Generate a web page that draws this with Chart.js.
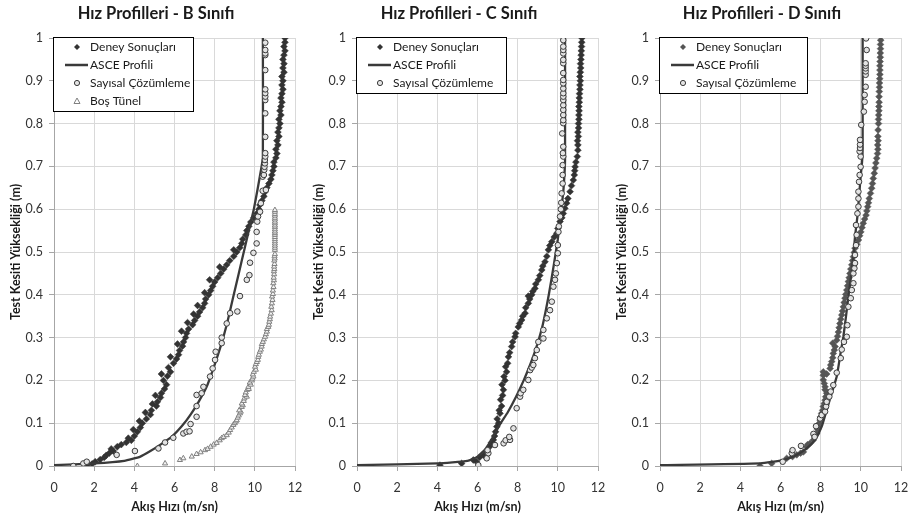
<!DOCTYPE html>
<html><head><meta charset="utf-8">
<script src="https://cdn.jsdelivr.net/npm/chart.js@4.4.1/dist/chart.umd.min.js"></script>
<style>
html,body{margin:0;padding:0;background:#fff;width:909px;height:522px;overflow:hidden}
.c{position:absolute;top:0;width:303px;height:522px}
</style></head><body>
<div class="c" style="left:0"><canvas id="cB" width="303" height="522"></canvas></div>
<div class="c" style="left:303px"><canvas id="cC" width="303" height="522"></canvas></div>
<div class="c" style="left:606px"><canvas id="cD" width="303" height="522"></canvas></div>
<script>
const FONT = 'Lato, "Open Sans", sans-serif';
const xTickLabels = ['0','2','4','6','8','10','12'];
const yTickLabels = ['0','0.1','0.2','0.3','0.4','0.5','0.6','0.7','0.8','0.9','1'];
const chartTitles = ['Hız Profilleri - B Sınıfı','Hız Profilleri - C Sınıfı','Hız Profilleri - D Sınıfı'];
const legendLabels = ['Deney Sonuçları','ASCE Profili','Sayısal Çözümleme','Boş Tünel'];
const axisTitleX = 'Akış Hızı (m/sn)';
const axisTitleY = 'Test Kesiti Yüksekliği (m)';

// ---- B class ----
const bDeney = [[1.65,0],[1.9,0.005],[2.05,0.01],[2.3,0.015],[2.5,0.02],[2.6,0.025],[2.75,0.03],[2.95,0.035],[2.85,0.04],[3.15,0.045],[3.35,0.05],[3.6,0.055],[3.85,0.06],[3.7,0.065],[4.0,0.07],[4.15,0.08],[3.95,0.085],[4.3,0.09],[4.4,0.1],[4.25,0.105],[4.6,0.11],[4.8,0.12],[4.55,0.125],[4.85,0.13],[5.1,0.14],[4.9,0.145],[5.15,0.15],[5.3,0.16],[5.05,0.165],[5.35,0.17],[5.5,0.18],[5.6,0.19],[5.45,0.2],[5.65,0.21],[5.35,0.215],[5.8,0.22],[5.7,0.23],[5.95,0.24],[6.1,0.25],[5.8,0.255],[6.2,0.26],[6.25,0.27],[6.4,0.28],[6.15,0.285],[6.45,0.29],[6.55,0.3],[6.6,0.31],[6.35,0.315],[6.7,0.32],[6.9,0.33],[6.65,0.335],[7.0,0.34],[7.15,0.35],[6.95,0.355],[7.25,0.36],[7.4,0.37],[7.15,0.375],[7.5,0.38],[7.55,0.39],[7.7,0.4],[7.5,0.405],[7.8,0.41],[7.9,0.42],[8.0,0.43],[7.75,0.435],[8.15,0.44],[8.3,0.45],[8.45,0.46],[8.25,0.465],[8.6,0.47],[8.75,0.48],[8.95,0.49],[9.1,0.5],[8.95,0.505],[9.25,0.51],[9.35,0.52],[9.4,0.53],[9.55,0.54],[9.6,0.55],[9.7,0.56],[9.8,0.57],[9.95,0.58],[10.1,0.59],[10.2,0.6],[10.25,0.61],[10.35,0.62],[10.45,0.63],[10.5,0.64],[10.6,0.65],[10.7,0.66],[10.8,0.67],[10.85,0.68],[10.9,0.69],[10.95,0.7],[10.95,0.71],[11.05,0.72],[11.1,0.73],[11.05,0.74],[11.15,0.75],[11.1,0.76],[11.2,0.77],[11.15,0.78],[11.2,0.79],[11.25,0.8],[11.2,0.81],[11.3,0.82],[11.25,0.83],[11.3,0.84],[11.35,0.85],[11.3,0.86],[11.35,0.87],[11.4,0.88],[11.35,0.89],[11.4,0.9],[11.35,0.91],[11.45,0.92],[11.4,0.93],[11.45,0.94],[11.4,0.95],[11.45,0.96],[11.5,0.97],[11.45,0.98],[11.5,0.99],[11.5,1.0]];
const bAsce = [[0,0.002],[2.0,0.006],[3.5,0.012],[4.3,0.022],[4.8,0.035],[5.3,0.05],[5.9,0.07],[6.4,0.095],[6.8,0.12],[7.2,0.15],[7.6,0.185],[7.95,0.23],[8.3,0.28],[8.6,0.33],[8.9,0.39],[9.2,0.45],[9.5,0.51],[9.75,0.56],[9.95,0.6],[10.15,0.65],[10.3,0.69],[10.4,0.72],[10.4,1.0]];
const bSayisal = [[0.96,0.0],[1.46,0.006],[1.63,0.01],[3.12,0.026],[4.03,0.035],[5.2,0.041],[5.53,0.055],[5.94,0.066],[6.44,0.076],[6.6,0.08],[6.75,0.081],[6.8,0.098],[7.1,0.115],[7.1,0.14],[7.1,0.166],[7.35,0.17],[7.44,0.185],[7.77,0.209],[7.9,0.228],[8.02,0.248],[8.05,0.267],[8.35,0.287],[8.35,0.3],[8.6,0.333],[8.77,0.357],[9.13,0.361],[9.26,0.397],[9.6,0.435],[9.73,0.446],[9.76,0.475],[9.93,0.498],[10.09,0.52],[10.09,0.547],[10.12,0.571],[10.16,0.583],[10.26,0.594],[10.3,0.614],[10.39,0.643],[10.55,0.645],[10.39,0.676],[10.45,0.68],[10.47,0.692],[10.48,0.699],[10.5,0.707],[10.5,0.715],[10.52,0.723],[10.52,0.731],[10.52,0.769],[10.52,0.824],[10.52,0.855],[10.52,0.863],[10.52,0.871],[10.52,0.88],[10.52,0.925],[10.52,0.96],[10.52,0.964],[10.52,0.972],[10.52,0.989]];
const bBos = [[4.15,0.0],[5.53,0.006],[6.27,0.014],[6.44,0.018],[6.86,0.022],[7.1,0.028],[7.3,0.032],[7.52,0.037],[7.65,0.04],[7.8,0.045],[7.95,0.05],[8.1,0.054],[8.25,0.06],[8.35,0.065],[8.45,0.068],[8.6,0.072],[8.7,0.078],[8.77,0.084],[8.85,0.09],[8.93,0.096],[9.0,0.1],[9.05,0.104],[9.1,0.107],[9.15,0.113],[9.2,0.118],[9.26,0.123],[9.3,0.127],[9.22,0.13],[9.35,0.138],[9.4,0.142],[9.35,0.146],[9.45,0.152],[9.48,0.158],[9.6,0.162],[9.51,0.166],[9.55,0.172],[9.62,0.178],[9.7,0.18],[9.68,0.185],[9.8,0.19],[9.75,0.195],[9.85,0.2],[9.88,0.204],[9.93,0.209],[9.9,0.214],[9.95,0.22],[10.05,0.225],[10.01,0.232],[10.05,0.238],[10.1,0.243],[10.15,0.248],[10.17,0.255],[10.2,0.26],[10.25,0.267],[10.3,0.272],[10.34,0.279],[10.35,0.285],[10.4,0.29],[10.45,0.296],[10.51,0.302],[10.55,0.308],[10.6,0.314],[10.6,0.32],[10.67,0.325],[10.7,0.33],[10.72,0.337],[10.75,0.343],[10.76,0.349],[10.8,0.356],[10.84,0.364],[10.82,0.372],[10.85,0.38],[10.88,0.388],[10.86,0.396],[10.9,0.402],[10.9,0.41],[10.93,0.418],[10.92,0.427],[10.95,0.434],[10.94,0.44],[10.96,0.448],[10.95,0.455],[10.97,0.46],[10.96,0.466],[10.98,0.472],[10.97,0.48],[10.99,0.485],[10.98,0.49],[11.0,0.495],[11.0,0.505],[11.0,0.51],[11.0,0.515],[11.0,0.52],[11.0,0.525],[11.0,0.53],[11.0,0.535],[11.0,0.54],[11.0,0.544],[11.0,0.548],[11.0,0.553],[11.0,0.558],[11.0,0.562],[11.0,0.567],[11.0,0.571],[11.0,0.576],[11.0,0.58],[11.0,0.585],[11.0,0.589],[11.0,0.594],[11.0,0.598]];

// ---- C class ----
const cDeney = [[4.13,0.002],[5.21,0.006],[5.95,0.01],[5.79,0.014],[6.1,0.02],[6.3,0.025],[6.46,0.033],[6.6,0.045],[6.7,0.055],[6.79,0.061],[6.85,0.07],[6.9,0.08],[6.96,0.092],[7.05,0.1],[6.98,0.11],[7.12,0.123],[7.08,0.13],[7.2,0.14],[7.15,0.155],[7.25,0.165],[7.29,0.178],[7.22,0.19],[7.37,0.2],[7.32,0.209],[7.45,0.22],[7.4,0.232],[7.5,0.24],[7.54,0.255],[7.6,0.265],[7.7,0.279],[7.75,0.29],[7.87,0.302],[7.9,0.31],[8.03,0.325],[8.1,0.333],[8.2,0.341],[8.25,0.35],[8.37,0.357],[8.4,0.37],[8.53,0.38],[8.6,0.39],[8.53,0.397],[8.7,0.4],[8.75,0.408],[8.86,0.415],[8.9,0.425],[9.03,0.435],[9.1,0.445],[9.2,0.458],[9.25,0.467],[9.36,0.477],[9.45,0.49],[9.53,0.505],[9.6,0.515],[9.7,0.524],[9.82,0.535],[9.95,0.544],[10.0,0.555],[10.11,0.571],[10.2,0.58],[10.27,0.59],[10.35,0.602],[10.44,0.614],[10.5,0.625],[10.61,0.641],[10.68,0.655],[10.77,0.668],[10.82,0.68],[10.84,0.69],[10.86,0.699],[10.9,0.71],[10.97,0.723],[11.0,0.738],[11.0,0.75],[10.98,0.76],[11.02,0.77],[11.0,0.78],[11.03,0.79],[11.03,0.8],[11.05,0.81],[11.05,0.82],[11.06,0.83],[11.05,0.84],[11.07,0.85],[11.07,0.86],[11.08,0.87],[11.1,0.88],[11.1,0.89],[11.12,0.9],[11.1,0.91],[11.12,0.92],[11.14,0.93],[11.13,0.94],[11.15,0.95],[11.16,0.96],[11.17,0.97],[11.18,0.98],[11.19,0.99],[11.2,1.0]];
const cAsce = [[0,0.002],[4.0,0.006],[5.5,0.012],[6.0,0.022],[6.4,0.04],[6.8,0.07],[7.15,0.1],[7.5,0.125],[7.9,0.16],[8.3,0.2],[8.65,0.24],[8.95,0.28],[9.25,0.33],[9.55,0.4],[9.8,0.47],[10.0,0.53],[10.15,0.59],[10.27,0.64],[10.34,0.69],[10.36,0.72],[10.36,1.0]];
const cSayisal = [[6.04,0.002],[6.46,0.018],[6.54,0.03],[6.5,0.037],[6.87,0.049],[7.3,0.053],[7.4,0.06],[7.62,0.061],[7.58,0.068],[7.79,0.088],[7.95,0.135],[8.12,0.162],[8.15,0.17],[8.28,0.178],[8.53,0.201],[8.62,0.224],[8.7,0.23],[8.78,0.236],[8.86,0.252],[8.95,0.271],[9.03,0.29],[9.28,0.298],[9.28,0.318],[9.45,0.345],[9.61,0.364],[9.7,0.384],[9.78,0.419],[9.86,0.435],[9.9,0.45],[9.95,0.474],[10.0,0.497],[10.0,0.516],[10.03,0.547],[10.05,0.56],[10.11,0.583],[10.15,0.6],[10.17,0.615],[10.19,0.637],[10.24,0.66],[10.24,0.68],[10.24,0.703],[10.27,0.723],[10.25,0.731],[10.27,0.746],[10.22,0.777],[10.27,0.801],[10.27,0.808],[10.27,0.82],[10.27,0.832],[10.27,0.843],[10.27,0.855],[10.27,0.863],[10.27,0.871],[10.27,0.882],[10.27,0.894],[10.27,0.902],[10.27,0.918],[10.27,0.941],[10.27,0.949],[10.27,0.964],[10.27,0.972],[10.27,0.98],[10.27,0.995]];

// ---- D class ----
const dDeney = [[4.98,0.0],[5.56,0.006],[6.31,0.018],[6.6,0.022],[6.81,0.026],[7.0,0.03],[7.14,0.033],[7.3,0.045],[7.35,0.05],[7.47,0.053],[7.64,0.061],[7.7,0.068],[7.8,0.076],[7.85,0.085],[7.89,0.092],[7.93,0.1],[7.97,0.107],[8.0,0.115],[8.05,0.123],[8.1,0.13],[8.13,0.139],[8.18,0.146],[8.22,0.154],[8.25,0.162],[8.3,0.17],[8.22,0.178],[8.22,0.185],[8.18,0.193],[8.13,0.201],[8.13,0.212],[8.13,0.22],[8.3,0.215],[8.47,0.228],[8.5,0.236],[8.55,0.244],[8.6,0.253],[8.63,0.263],[8.68,0.271],[8.72,0.279],[8.6,0.287],[8.8,0.294],[8.84,0.303],[8.88,0.313],[8.92,0.323],[8.96,0.333],[9.0,0.343],[9.05,0.353],[9.09,0.362],[9.13,0.372],[9.17,0.382],[9.21,0.392],[9.25,0.401],[9.3,0.411],[9.34,0.421],[9.38,0.431],[9.42,0.44],[9.46,0.45],[9.5,0.46],[9.55,0.47],[9.59,0.48],[9.63,0.489],[9.67,0.499],[9.71,0.509],[9.8,0.518],[9.88,0.528],[9.94,0.538],[10.0,0.547],[10.06,0.557],[10.12,0.567],[10.19,0.577],[10.26,0.586],[10.3,0.596],[10.34,0.606],[10.38,0.615],[10.42,0.625],[10.48,0.637],[10.54,0.649],[10.58,0.66],[10.62,0.672],[10.67,0.684],[10.71,0.696],[10.75,0.708],[10.79,0.719],[10.83,0.73],[10.85,0.74],[10.84,0.75],[10.86,0.76],[10.85,0.77],[10.86,0.785],[10.88,0.8],[10.88,0.81],[10.89,0.82],[10.9,0.83],[10.9,0.84],[10.91,0.85],[10.91,0.863],[10.92,0.875],[10.93,0.885],[10.93,0.895],[10.94,0.905],[10.95,0.915],[10.95,0.925],[10.95,0.935],[10.96,0.945],[10.97,0.955],[10.97,0.965],[10.98,0.975],[10.98,0.985],[10.99,0.995]];
const dAsce = [[0,0.002],[5.0,0.006],[6.14,0.014],[6.81,0.026],[7.3,0.041],[7.72,0.061],[8.05,0.092],[8.3,0.131],[8.55,0.17],[8.8,0.209],[8.96,0.255],[9.13,0.302],[9.26,0.349],[9.38,0.396],[9.51,0.442],[9.63,0.489],[9.71,0.536],[9.83,0.583],[9.91,0.629],[9.99,0.676],[10.06,0.71],[10.09,0.74],[10.09,1.0]];
const dSayisal = [[6.11,0.01],[6.56,0.03],[6.6,0.037],[7.02,0.047],[7.64,0.075],[7.7,0.068],[7.77,0.093],[7.97,0.111],[8.05,0.119],[8.22,0.127],[8.27,0.139],[8.3,0.15],[8.43,0.162],[8.5,0.174],[8.63,0.189],[8.8,0.218],[9.0,0.252],[9.05,0.272],[9.16,0.29],[9.3,0.302],[9.33,0.329],[9.38,0.372],[9.5,0.392],[9.55,0.411],[9.63,0.427],[9.63,0.45],[9.68,0.462],[9.71,0.474],[9.71,0.493],[9.76,0.516],[9.79,0.54],[9.76,0.563],[9.83,0.59],[9.88,0.606],[9.88,0.625],[9.88,0.641],[9.91,0.664],[9.94,0.68],[9.99,0.699],[9.99,0.723],[9.94,0.735],[9.96,0.743],[9.96,0.751],[9.96,0.762],[10.02,0.797],[10.15,0.828],[10.19,0.851],[10.19,0.867],[10.24,0.886],[10.24,0.914],[10.24,0.922],[10.24,0.929],[10.24,0.935],[10.24,0.941],[10.29,0.972],[10.26,0.999]];

const toPts = a => a.map(p => ({x: p[0], y: p[1]}));

const decor = {
  id: 'decor',
  afterDraw(chart, args, o) {
    const ctx = chart.ctx;
    ctx.save();
    ctx.font = 'bold 16.5px ' + FONT;
    ctx.fillStyle = '#1a1a1a';
    ctx.textAlign = 'center';
    ctx.textBaseline = 'middle';
    ctx.fillText(o.title, o.titleX, 14);
    const L = o.legend;
    ctx.fillStyle = '#fff';
    ctx.fillRect(L.x, L.y, L.w, L.h);
    ctx.strokeStyle = '#000';
    ctx.lineWidth = 1;
    ctx.strokeRect(L.x + 0.5, L.y + 0.5, L.w, L.h);
    ctx.font = '12px ' + FONT;
    ctx.textAlign = 'left';
    o.items.forEach((it, i) => {
      const cy = L.y + 10 + i * 18;
      const mx = L.x + 24;
      ctx.fillStyle = it.fill; ctx.strokeStyle = it.stroke; ctx.lineWidth = 1;
      if (it.kind === 'line') {
        ctx.lineWidth = 2.5;
        ctx.beginPath(); ctx.moveTo(L.x + 12, cy); ctx.lineTo(L.x + 35, cy); ctx.stroke();
      } else if (it.kind === 'diamond') {
        ctx.beginPath(); ctx.moveTo(mx, cy - 3); ctx.lineTo(mx + 3, cy); ctx.lineTo(mx, cy + 3); ctx.lineTo(mx - 3, cy); ctx.closePath(); ctx.fill();
      } else if (it.kind === 'circle') {
        ctx.beginPath(); ctx.arc(mx, cy, 2.6, 0, Math.PI * 2); ctx.fill(); ctx.stroke();
      } else if (it.kind === 'triangle') {
        ctx.beginPath(); ctx.moveTo(mx, cy - 3); ctx.lineTo(mx + 3, cy + 2.5); ctx.lineTo(mx - 3, cy + 2.5); ctx.closePath(); ctx.fill(); ctx.stroke();
      }
      ctx.fillStyle = '#1a1a1a';
      ctx.fillText(it.label, L.x + 37, cy + 0.5);
    });
    ctx.restore();
  }
};

function makeChart(id, idx, deney, asce, sayisal, bos, deneyColor, legendW) {
  const datasets = [
    {label: legendLabels[0], data: toPts(deney), showLine: false, pointStyle: 'rectRot', pointRadius: 3.4, pointBackgroundColor: deneyColor, pointBorderColor: deneyColor, pointBorderWidth: 0.5, order: 4},
    {label: legendLabels[1], data: toPts(asce), showLine: true, pointRadius: 0, borderColor: '#3a3a3a', borderWidth: 2.3, fill: false, tension: 0.15, order: 3},
    {label: legendLabels[2], data: toPts(sayisal), showLine: false, pointStyle: 'circle', pointRadius: 2.8, pointBackgroundColor: '#e3e3e3', pointBorderColor: '#3a3a3a', pointBorderWidth: 1, order: 2}
  ];
  const items = [
    {kind: 'diamond', label: legendLabels[0], fill: deneyColor, stroke: deneyColor},
    {kind: 'line', label: legendLabels[1], fill: '#3a3a3a', stroke: '#3a3a3a'},
    {kind: 'circle', label: legendLabels[2], fill: '#e3e3e3', stroke: '#3a3a3a'}
  ];
  if (bos) {
    datasets.push({label: legendLabels[3], data: toPts(bos), showLine: false, pointStyle: 'triangle', pointRadius: 3, pointBackgroundColor: '#f2f2f2', pointBorderColor: '#808080', pointBorderWidth: 1, order: 1});
    items.push({kind: 'triangle', label: legendLabels[3], fill: '#fff', stroke: '#808080'});
  }
  const tickFont = {family: FONT, size: 12.5};
  const titleFont = {family: FONT, size: 12.5, weight: 'bold'};
  new Chart(document.getElementById(id), {
    type: 'scatter',
    data: {datasets},
    options: {
      responsive: false, animation: false, events: [],
      layout: {padding: {top: 38, right: 8, left: 0, bottom: 0}},
      plugins: {
        legend: {display: false}, tooltip: {enabled: false},
        decor: {title: chartTitles[idx], titleX: 156, legend: {x: 53, y: 37, w: legendW, h: items.length * 18 + 2}, items}
      },
      scales: {
        x: {type: 'linear', position: 'bottom', min: 0, max: 12,
            ticks: {stepSize: 2, callback: (v, i) => xTickLabels[i], color: '#333', font: tickFont, padding: 9, maxRotation: 0},
            grid: {color: '#d9d9d9', tickColor: '#a6a6a6', tickLength: 5, lineWidth: 1},
            border: {color: '#a6a6a6', width: 1},
            title: {display: true, text: axisTitleX, color: '#1a1a1a', font: titleFont, padding: {top: 0, bottom: 8}},
            afterFit: s => { s.height = 56; s.paddingLeft = 0; s.paddingRight = 0; }},
        y: {type: 'linear', position: 'left', min: 0, max: 1,
            ticks: {stepSize: 0.1, callback: (v, i) => yTickLabels[i], color: '#333', font: tickFont, padding: 6},
            grid: {color: '#d9d9d9', tickColor: '#a6a6a6', tickLength: 5, lineWidth: 1},
            border: {color: '#a6a6a6', width: 1},
            title: {display: true, text: axisTitleY, color: '#1a1a1a', font: titleFont, padding: {top: 8, bottom: 0}},
            afterFit: s => { s.width = 54; }}
      }
    },
    plugins: [decor]
  });
}

makeChart('cB', 0, bDeney, bAsce, bSayisal, bBos, '#333333', 140);
makeChart('cC', 1, cDeney, cAsce, cSayisal, null, '#333333', 150);
makeChart('cD', 2, dDeney, dAsce, dSayisal, null, '#555555', 148);
</script>
</body></html>
